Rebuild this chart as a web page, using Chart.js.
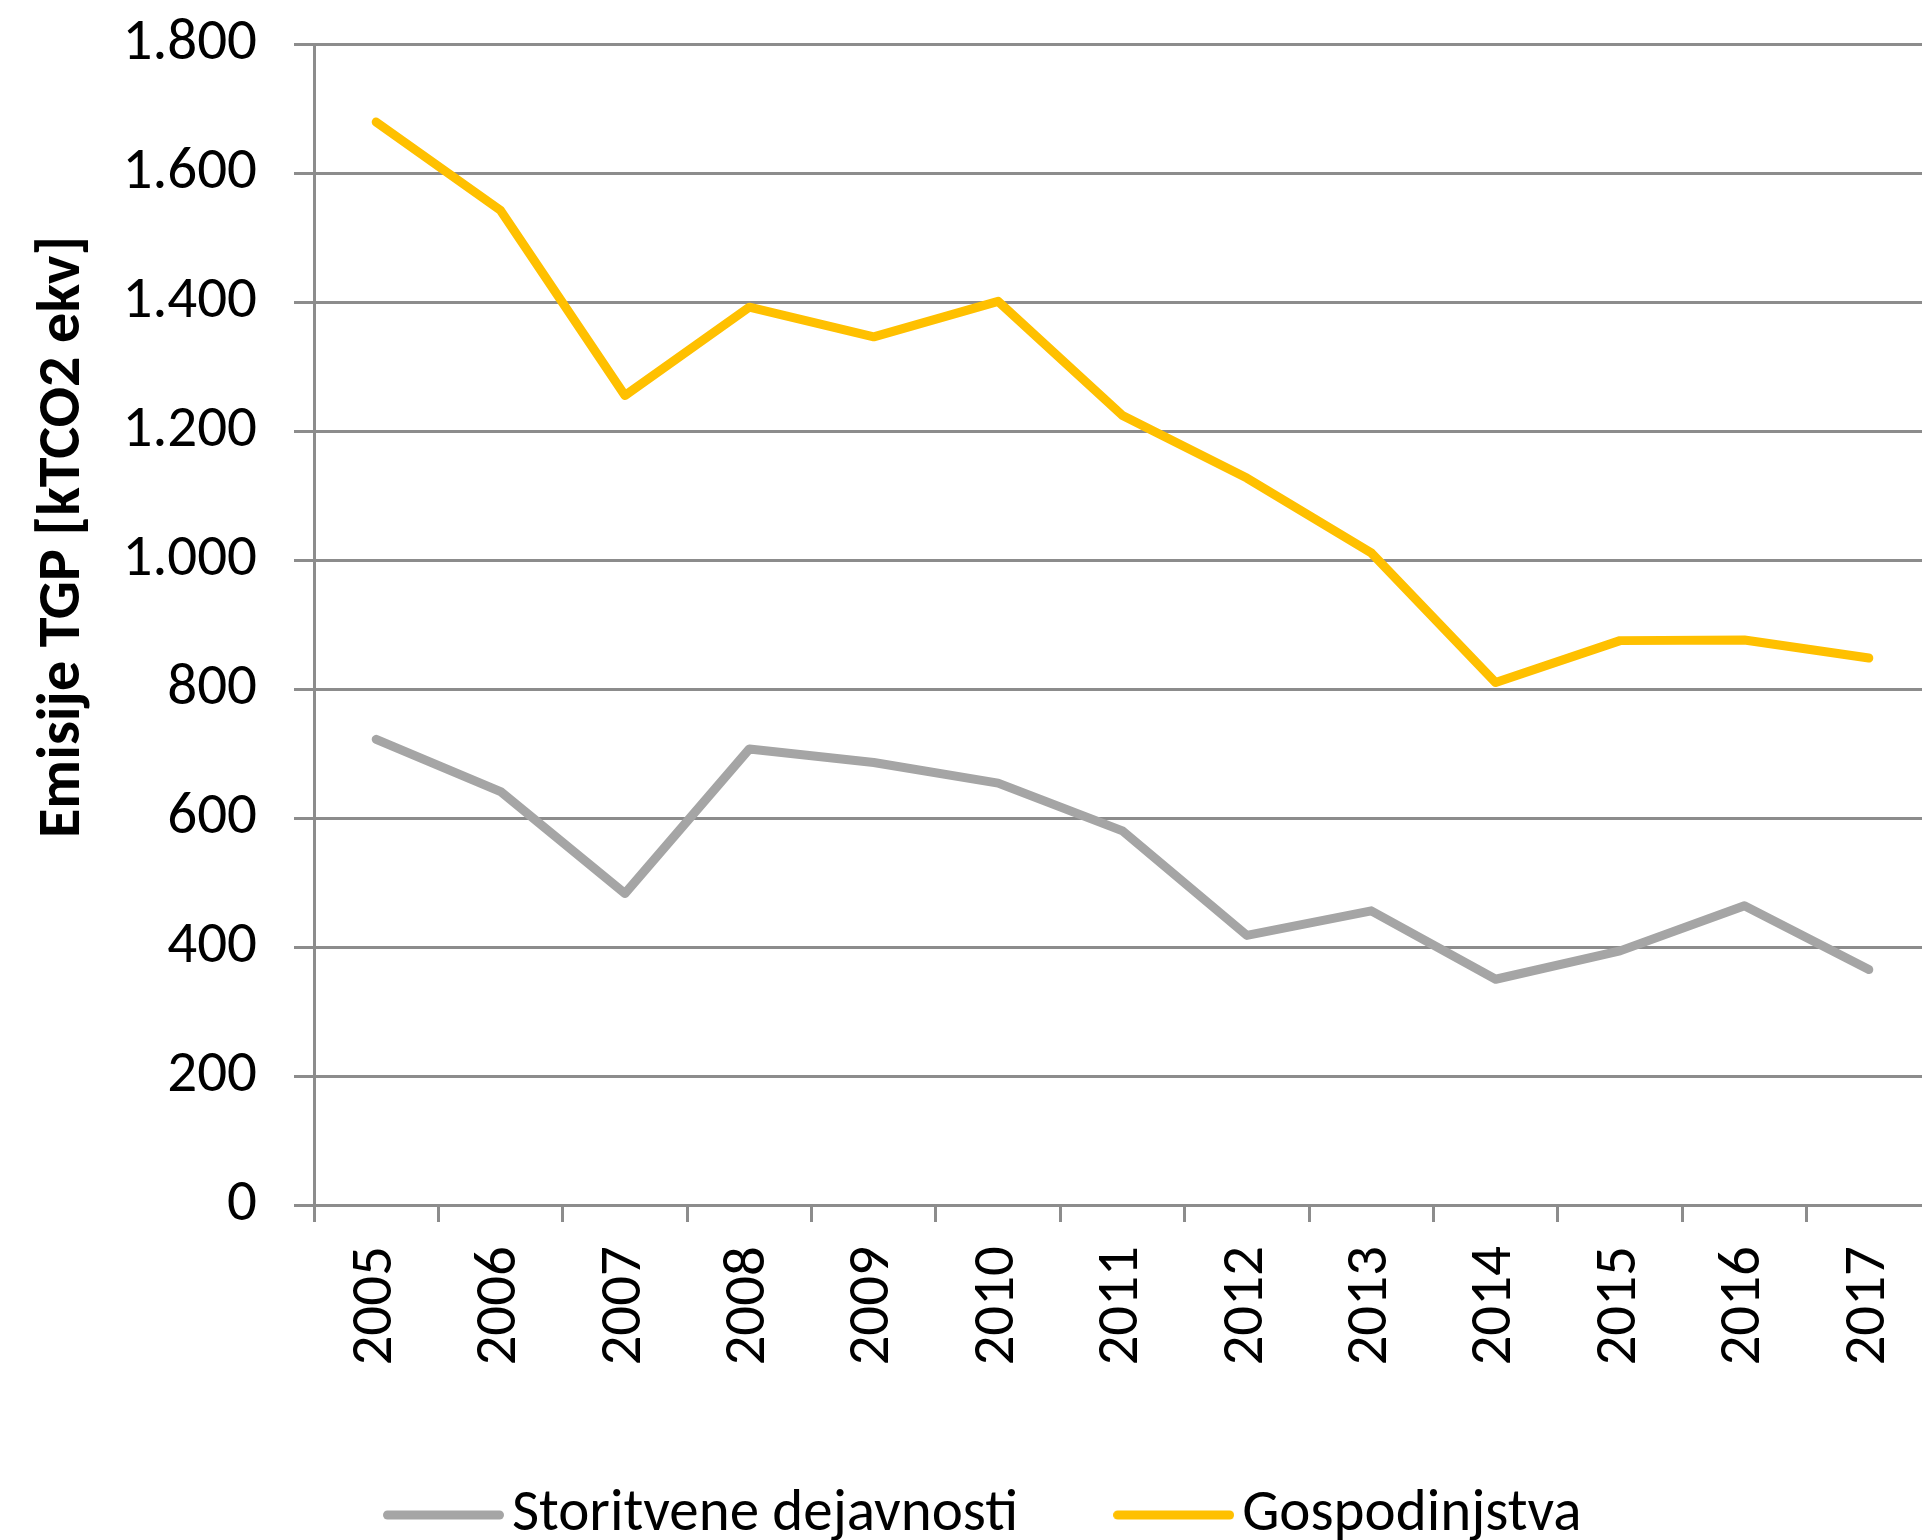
<!DOCTYPE html>
<html>
<head>
<meta charset="utf-8">
<script src="https://cdn.jsdelivr.net/npm/chart.js@4/dist/chart.umd.min.js"></script>
<style>
  html, body { margin: 0; padding: 0; background: #ffffff; overflow: hidden; }
  #wrap { position: relative; width: 1931px; height: 1540px; }
</style>
</head>
<body>
<div id="wrap"><canvas id="c"></canvas></div>
<script>
const years = ['2005','2006','2007','2008','2009','2010','2011','2012','2013','2014','2015','2016','2017'];
const storitvene = [722, 641, 483, 707, 686, 654, 580, 418, 456, 350, 394, 464, 365];
const gospodinjstva = [1679, 1542, 1255, 1392, 1346, 1401, 1224, 1127, 1011, 810, 875, 876, 848];
const seriesNames = ['Storitvene dejavnosti', 'Gospodinjstva'];
const yTitle = 'Emisije TGP [kTCO2 ekv]';

const FONT = 'Carlito, "Open Sans", sans-serif';
const GRID = '#8c8c8c';

function fmt(v) {
  return String(v).replace(/\B(?=(\d{3})+(?!\d))/g, '.');
}

function swatch(color) {
  const c = document.createElement('canvas');
  c.width = 121; c.height = 12;
  const g = c.getContext('2d');
  g.strokeStyle = color;
  g.lineWidth = 9;
  g.lineCap = 'round';
  g.beginPath();
  g.moveTo(4.5, 6);
  g.lineTo(116.5, 6);
  g.stroke();
  return c;
}

const yTitlePlugin = {
  id: 'yTitlePlugin',
  afterDraw(chart) {
    const ctx = chart.ctx;
    ctx.save();
    ctx.font = 'bold 60px ' + FONT;
    ctx.fillStyle = '#000000';
    ctx.textAlign = 'center';
    ctx.textBaseline = 'middle';
    ctx.translate(64, 537);
    ctx.rotate(-Math.PI / 2);
    ctx.fillText(yTitle, 0, 0);
    ctx.restore();
  }
};

new Chart(document.getElementById('c'), {
  type: 'line',
  data: {
    labels: years,
    datasets: [
      {
        label: seriesNames[0],
        data: storitvene,
        borderColor: '#A5A5A5',
        backgroundColor: '#A5A5A5',
        borderWidth: 9,
        pointRadius: 0,
        tension: 0,
        borderCapStyle: 'round',
        borderJoinStyle: 'round'
      },
      {
        label: seriesNames[1],
        data: gospodinjstva,
        borderColor: '#FFC000',
        backgroundColor: '#FFC000',
        borderWidth: 9,
        pointRadius: 0,
        tension: 0,
        borderCapStyle: 'round',
        borderJoinStyle: 'round'
      }
    ]
  },
  plugins: [yTitlePlugin],
  options: {
    responsive: true,
    maintainAspectRatio: false,
    animation: false,
    layout: { padding: { top: 44, left: 55, right: 0, bottom: 0 } },
    plugins: {
      tooltip: { enabled: false },
      legend: {
        position: 'bottom',
        maxHeight: 171,
        labels: {
          font: { family: FONT, size: 59 },
          color: '#000000',
          usePointStyle: true,
          pointStyleWidth: 78,
          padding: 116.5,
          generateLabels: chart =>
            Chart.defaults.plugins.legend.labels.generateLabels(chart).map(it =>
              Object.assign(it, { pointStyle: swatch(it.strokeStyle) }))
        }
      }
    },
    scales: {
      x: {
        type: 'category',
        offset: true,
        grid: {
          offset: true,
          drawOnChartArea: false,
          drawTicks: true,
          tickLength: 17,
          color: GRID,
          lineWidth: 3
        },
        border: { display: true, color: GRID, width: 3 },
        ticks: {
          minRotation: 90,
          maxRotation: 90,
          autoSkip: false,
          padding: 24,
          color: '#000000',
          font: { family: FONT, size: 59 }
        },
        afterFit: s => { s.height = 164; s.paddingLeft = 0; s.paddingRight = 0; }
      },
      y: {
        min: 0,
        max: 1800,
        grid: {
          color: GRID,
          lineWidth: 3,
          tickLength: 20,
          drawTicks: true
        },
        border: { display: true, color: GRID, width: 3 },
        ticks: {
          stepSize: 200,
          padding: 37,
          color: '#000000',
          font: { family: FONT, size: 59 },
          callback: v => fmt(v)
        },
        afterFit: s => { s.width = 259; s.paddingTop = 0; s.paddingBottom = 0; }
      }
    }
  }
});
</script>
</body>
</html>
